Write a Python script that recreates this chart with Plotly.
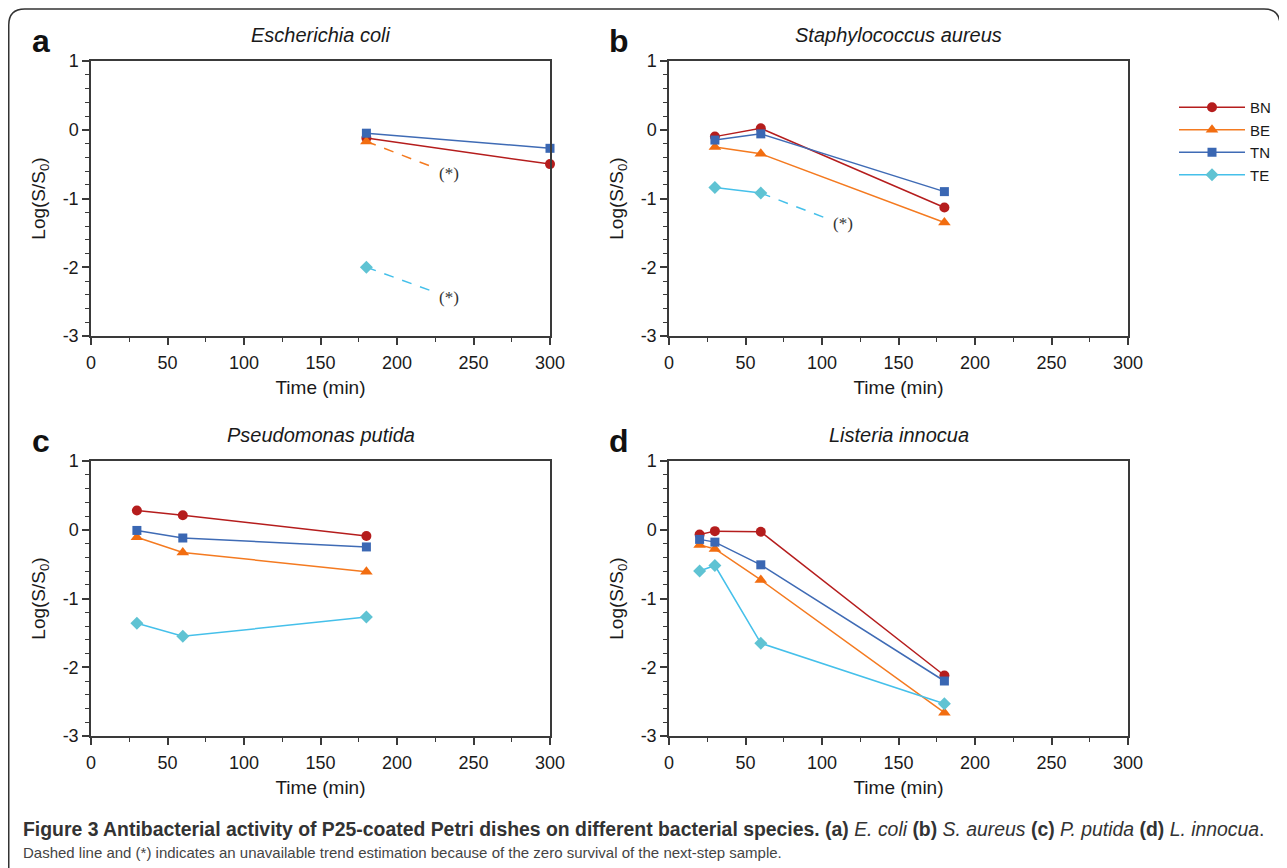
import plotly.graph_objects as go

# ---------------- data ----------------
series_names = ["BN", "BE", "TN", "TE"]

# Panel a: Escherichia coli
a_BN_x = [180, 300]; a_BN_y = [-0.12, -0.50]
a_BE_x = [180];      a_BE_y = [-0.17]
a_TN_x = [180, 300]; a_TN_y = [-0.05, -0.27]
a_TE_x = [180];      a_TE_y = [-2.00]
a_BE_dash_x = [180, 222]; a_BE_dash_y = [-0.17, -0.53]
a_TE_dash_x = [180, 222]; a_TE_dash_y = [-2.00, -2.34]

# Panel b: Staphylococcus aureus
b_BN_x = [30, 60, 180]; b_BN_y = [-0.10, 0.02, -1.13]
b_BE_x = [30, 60, 180]; b_BE_y = [-0.25, -0.35, -1.35]
b_TN_x = [30, 60, 180]; b_TN_y = [-0.15, -0.06, -0.90]
b_TE_x = [30, 60];      b_TE_y = [-0.84, -0.92]
b_TE_dash_x = [60, 103]; b_TE_dash_y = [-0.92, -1.29]

# Panel c: Pseudomonas putida
c_BN_x = [30, 60, 180]; c_BN_y = [0.28, 0.21, -0.09]
c_BE_x = [30, 60, 180]; c_BE_y = [-0.11, -0.33, -0.61]
c_TN_x = [30, 60, 180]; c_TN_y = [-0.01, -0.12, -0.25]
c_TE_x = [30, 60, 180]; c_TE_y = [-1.36, -1.55, -1.27]

# Panel d: Listeria innocua
d_BN_x = [20, 30, 60, 180]; d_BN_y = [-0.07, -0.02, -0.03, -2.12]
d_BE_x = [20, 30, 60, 180]; d_BE_y = [-0.22, -0.28, -0.73, -2.66]
d_TN_x = [20, 30, 60, 180]; d_TN_y = [-0.14, -0.18, -0.51, -2.20]
d_TE_x = [20, 30, 60, 180]; d_TE_y = [-0.60, -0.52, -1.65, -2.53]

# "(*)" note positions
a_note_x = [234, 234]; a_note_y = [-0.63, -2.44]
b_note_x = [114];      b_note_y = [-1.37]

panel_titles = ["Escherichia coli", "Staphylococcus aureus", "Pseudomonas putida", "Listeria innocua"]
panel_letters = ["a", "b", "c", "d"]
x_ticks = [0, 50, 100, 150, 200, 250, 300]
y_ticks = [-3, -2, -1, 0, 1]
y_tick_text = ["-3", "-2", "-1", "0", "1"]

# ---------------- styles ----------------
line_col = {"BN": "#b51d1d", "BE": "#f47a20", "TN": "#3f6bb5", "TE": "#45c0ea"}
mark_col = {"BN": "#b51d1d", "BE": "#f26d10", "TN": "#3a67b3", "TE": "#5fc3d3"}
symbols = {"BN": "circle", "BE": "triangle-up", "TN": "square", "TE": "diamond"}
msize = {"BN": 10, "BE": 11, "TN": 9, "TE": 10}

W, H = 1287, 868
OFF = 8  # page body margin: screen position = figure position + 8
def px_x(p): return (p - OFF) / W
def px_y(p): return 1 - (p - OFF) / H

# panel plot areas in screen pixels
panels = {
    "a": dict(xa="x", ya="y", xd=[91, 550], yd=[61, 336]),
    "b": dict(xa="x2", ya="y2", xd=[669, 1128], yd=[61, 336]),
    "c": dict(xa="x3", ya="y3", xd=[91, 550], yd=[461, 736]),
    "d": dict(xa="x4", ya="y4", xd=[669, 1128], yd=[461, 736]),
}

data = {
    "a": {"BN": (a_BN_x, a_BN_y), "BE": (a_BE_x, a_BE_y), "TN": (a_TN_x, a_TN_y), "TE": (a_TE_x, a_TE_y)},
    "b": {"BN": (b_BN_x, b_BN_y), "BE": (b_BE_x, b_BE_y), "TN": (b_TN_x, b_TN_y), "TE": (b_TE_x, b_TE_y)},
    "c": {"BN": (c_BN_x, c_BN_y), "BE": (c_BE_x, c_BE_y), "TN": (c_TN_x, c_TN_y), "TE": (c_TE_x, c_TE_y)},
    "d": {"BN": (d_BN_x, d_BN_y), "BE": (d_BE_x, d_BE_y), "TN": (d_TN_x, d_TN_y), "TE": (d_TE_x, d_TE_y)},
}
dashes = {
    "a": [("BE", a_BE_dash_x, a_BE_dash_y), ("TE", a_TE_dash_x, a_TE_dash_y)],
    "b": [("TE", b_TE_dash_x, b_TE_dash_y)],
}
notes = {"a": (a_note_x, a_note_y), "b": (b_note_x, b_note_y)}

fig = go.Figure()

for key in ["a", "b", "c", "d"]:
    p = panels[key]
    for (s, dx, dy) in dashes.get(key, []):
        fig.add_trace(go.Scatter(
            x=dx, y=dy, mode="lines", xaxis=p["xa"], yaxis=p["ya"],
            line=dict(color=line_col[s], width=1.5, dash="10px,9px"),
            showlegend=False, hoverinfo="skip", cliponaxis=False))
    for s in series_names:
        xs, ys = data[key][s]
        fig.add_trace(go.Scatter(
            x=xs, y=ys, mode="lines+markers", name=s,
            xaxis=p["xa"], yaxis=p["ya"],
            line=dict(color=line_col[s], width=1.5),
            marker=dict(symbol=symbols[s], size=msize[s], color=mark_col[s], line=dict(width=0)),
            showlegend=(key == "a"), legendrank={"BN": 1, "BE": 2, "TN": 3, "TE": 4}[s],
            cliponaxis=False))

axis_common = dict(
    showline=True, linecolor="#3a3a3a", linewidth=1.5, mirror=True, automargin=False,
    showgrid=False, zeroline=False, ticks="outside", ticklen=7, tickwidth=1.5,
    tickcolor="#3a3a3a", tickfont=dict(family="Liberation Sans, Arial, sans-serif", size=18, color="#1a1a1a"),
)

layout = dict(
    width=W, height=H, margin=dict(l=0, r=0, t=0, b=0, autoexpand=False),
    paper_bgcolor="white", plot_bgcolor="white",
    font=dict(family="Liberation Sans, Arial, sans-serif", color="#1a1a1a"),
    legend=dict(x=px_x(1174), y=px_y(91), xanchor="left", yanchor="top",
                font=dict(size=15, color="#1a1a1a"), itemwidth=66,
                tracegroupgap=0, bgcolor="rgba(0,0,0,0)"),
    showlegend=True,
)

anns = []
for i, key in enumerate(["a", "b", "c", "d"]):
    p = panels[key]
    xn = "xaxis" if i == 0 else f"xaxis{i+1}"
    yn = "yaxis" if i == 0 else f"yaxis{i+1}"
    layout[xn] = dict(axis_common, domain=[px_x(p["xd"][0]), px_x(p["xd"][1])],
                      range=[0, 300], tickvals=x_ticks, anchor=p["ya"],
                      minor=dict(dtick=25, ticklen=4, tickwidth=1.2, tickcolor="#3a3a3a", ticks="outside"),
                      ticklabelstandoff=3,
                      title=dict(text="Time (min)", font=dict(size=19), standoff=8))
    layout[yn] = dict(axis_common, domain=[px_y(p["yd"][1]), px_y(p["yd"][0])],
                      range=[-3, 1], tickvals=y_ticks, ticktext=y_tick_text, anchor=p["xa"],
                      minor=dict(dtick=0.2, ticklen=4, tickwidth=1.2, tickcolor="#3a3a3a", ticks="outside"),
                      title=dict(text="Log(S/S<sub>0</sub>)", font=dict(size=19), standoff=12))
    # panel title
    anns.append(dict(text=f"<i>{panel_titles[i]}</i>", xref="paper", yref="paper",
                     x=px_x((p["xd"][0] + p["xd"][1]) / 2), y=px_y(p["yd"][0] - 26),
                     xanchor="center", yanchor="middle", showarrow=False,
                     font=dict(size=20, color="#1a1a1a")))
    # panel letter
    anns.append(dict(text=f"<b>{panel_letters[i]}</b>", xref="paper", yref="paper",
                     x=px_x(p["xd"][0] - 50), y=px_y(p["yd"][0] - 20),
                     xanchor="center", yanchor="middle", showarrow=False,
                     font=dict(size=32, color="#111111")))
    if key in notes:
        for nx, ny in zip(*notes[key]):
            anns.append(dict(text="(*)", x=nx, y=ny, xref=p["xa"], yref=p["ya"],
                             showarrow=False, xanchor="center", yanchor="middle",
                             font=dict(family="Liberation Serif, Times New Roman, serif", size=17, color="#333333")))

cap_font = "Liberation Sans, Arial, sans-serif"
anns.append(dict(
    text=("<b>Figure 3 Antibacterial activity of P25-coated Petri dishes on different bacterial species. (a)</b> "
          "<i>E. coli</i> <b>(b)</b> <i>S. aureus</i> <b>(c)</b> <i>P. putida</i> <b>(d)</b> <i>L. innocua</i>."),
    xref="paper", yref="paper", x=px_x(21), y=px_y(829), xanchor="left", yanchor="middle",
    showarrow=False, font=dict(family=cap_font, size=19.4, color="#333333")))
anns.append(dict(
    text="Dashed line and (*) indicates an unavailable trend estimation because of the zero survival of the next-step sample.",
    xref="paper", yref="paper", x=px_x(21), y=px_y(852), xanchor="left", yanchor="middle",
    showarrow=False, font=dict(family=cap_font, size=15, color="#444444")))
layout["annotations"] = anns

# rounded outer frame (screen pixels)
L, T, R, B, r = 8.75, 9, 1280, 890, 16
path = (f"M {px_x(L)},{px_y(B)} L {px_x(L)},{px_y(T + r)} Q {px_x(L)},{px_y(T)} {px_x(L + r)},{px_y(T)} "
        f"L {px_x(R - r)},{px_y(T)} Q {px_x(R)},{px_y(T)} {px_x(R)},{px_y(T + r)} L {px_x(R)},{px_y(B)}")
layout["shapes"] = [dict(type="path", xref="paper", yref="paper", path=path,
                         line=dict(color="#333333", width=1.5))]

fig.update_layout(**layout)
fig.write_html("out.html")
